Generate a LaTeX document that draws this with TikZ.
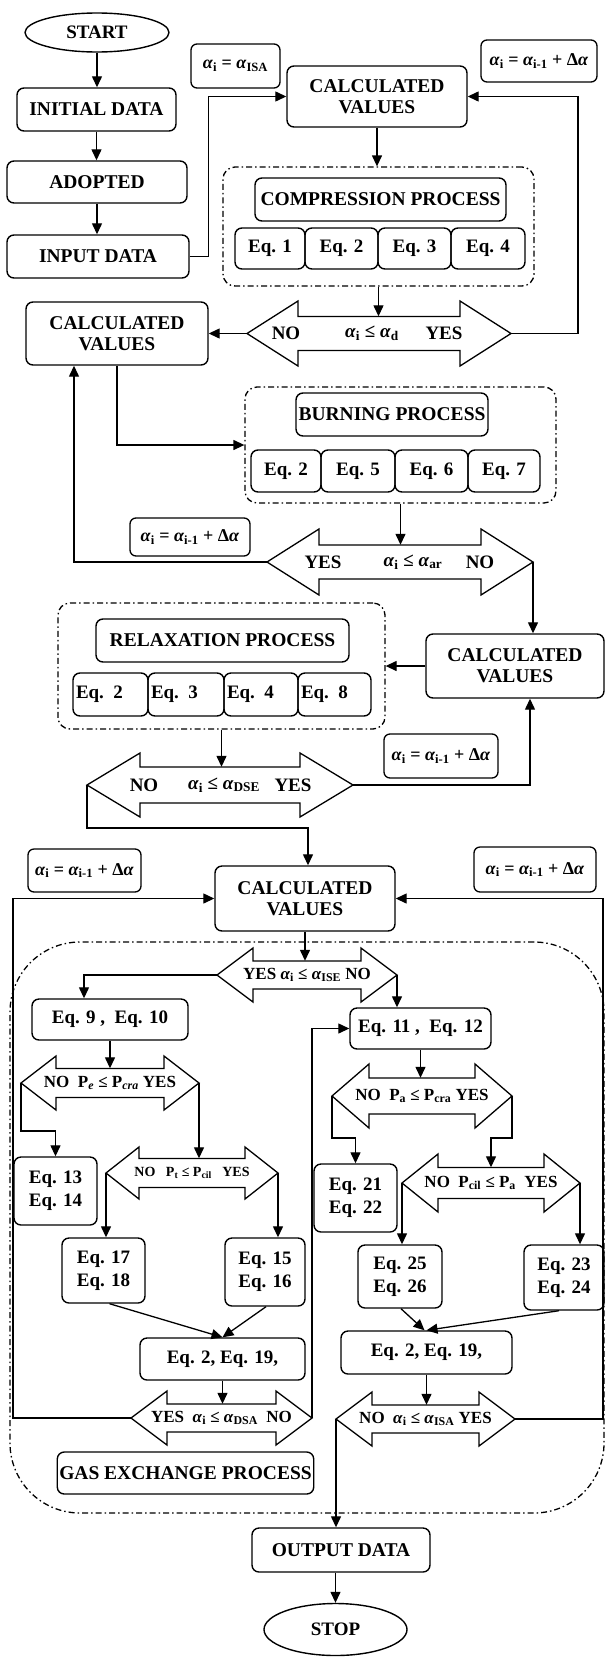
\documentclass[tikz,border=0pt]{standalone}
\usepackage{fontspec}
\setmainfont{Liberation Serif}
\usetikzlibrary{shapes.geometric,arrows.meta,calc}
\newcommand\myal{\textit{α}}
\newcommand\dblarr[8]{%
  \draw[dbl] ({#2-#4},#3) -- ({#2-#4+#5},{#3-#6}) -- ({#2-#4+#5},{#3-#7}) -- ({#2+#4-#5},{#3-#7}) -- ({#2+#4-#5},{#3-#6}) -- ({#2+#4},#3) -- ({#2+#4-#5},{#3+#6}) -- ({#2+#4-#5},{#3+#7}) -- ({#2-#4+#5},{#3+#7}) -- ({#2-#4+#5},{#3+#6}) -- cycle;
  \node[dlab, minimum height=2*#7pt] (#1) at (#2,#3) {#8};
  \coordinate (#1-l) at ({#2-#4},#3);
  \coordinate (#1-r) at ({#2+#4},#3);
}
\tikzset{
  box/.style={draw, line width=1.4pt, rounded corners=7pt, inner sep=2pt, align=center, font=\fontsize{19.5}{21}\selectfont\bfseries},
  eqbox/.style={draw, line width=1.4pt, rounded corners=7pt, inner sep=2pt, align=center, font=\fontsize{19}{23}\selectfont\bfseries},
  abox/.style={draw, line width=1.3pt, rounded corners=6pt, inner sep=2pt, font=\fontsize{18}{20}\selectfont\bfseries},
  oval/.style={draw, ellipse, line width=1.4pt, inner sep=0pt, font=\fontsize{19}{20}\selectfont\bfseries},
  dbox/.style={draw, line width=1.3pt, rounded corners=12pt, dash pattern=on 6pt off 3pt on 1.5pt off 3pt},
  arr/.style={line width=1.3pt, -{Triangle[length=11pt,width=10pt]}},
  dbl/.style={draw, line width=1.3pt, line join=miter},
  dlab/.style={font=\fontsize{17}{19}\selectfont\bfseries, inner sep=0pt},
  blab/.style={font=\fontsize{19}{21}\selectfont\bfseries, inner sep=0pt},
}
\begin{document}
\begin{tikzpicture}[x=1pt,y=-1pt]
\useasboundingbox (0,0) rectangle (605,1657);
% ---------- top column ----------
\node[oval, minimum width=144pt, minimum height=39pt] (start) at (97,32.5) {START};
\node[box, minimum width=159pt, minimum height=43pt] (init) at (96.5,109.5) {INITIAL DATA};
\node[box, minimum width=180pt, minimum height=42pt] (adopt) at (97,182) {ADOPTED};
\node[box, minimum width=182pt, minimum height=43pt] (input) at (98,256.5) {INPUT DATA};
\draw[arr] (start.south) -- (start.south |- init.north);
\draw[arr] (init.south) -- (init.south |- adopt.north);
\draw[arr] (adopt.south) -- (adopt.south |- input.north);
% ---------- compression ----------
\node[abox, minimum width=89pt, minimum height=44pt] (aisa) at (235.5,66) {\myal\textsubscript{i} = \myal\textsubscript{ISA}};
\node[box, minimum width=180pt, minimum height=61pt] (calc1) at (377,96.5) {CALCULATED\\VALUES};
\node[abox, minimum width=116pt, minimum height=42pt] (ainc1) at (539,61) {\myal\textsubscript{i} = \myal\textsubscript{i-1} + Δ\myal};
\node[dbox, minimum width=311pt, minimum height=119pt] (compbox) at (378.5,226.5) {};
\node[box, minimum width=251pt, minimum height=43pt] (compP) at (380.5,199.5) {COMPRESSION PROCESS};
\node[eqbox, minimum width=70pt, minimum height=41pt] (c1) at (270,248.5) {Eq. 1};
\node[eqbox, minimum width=73pt, minimum height=41pt] (c2) at (341.5,248.5) {Eq. 2};
\node[eqbox, minimum width=73pt, minimum height=41pt] (c3) at (414.5,248.5) {Eq. 3};
\node[eqbox, minimum width=74pt, minimum height=41pt] (c4) at (488,248.5) {Eq. 4};
\draw[arr] (input.east) -- ++(19,0) |- (calc1.west);
\draw[arr] (calc1.south) -- (calc1.south |- compbox.north);
\dblarr{d1}{379}{333.5}{132}{51}{32.5}{17}{}
\node[blab] (d1no) at (286,333.5) {NO};
\node[blab] (d1a) at (372,333.5) {\myal\textsubscript{i} ≤ \myal\textsubscript{d}};
\node[blab] (d1yes) at (444,333.5) {YES};
\draw[arr] (compbox.south) -- (compbox.south |- d1.north);
\draw[arr] (d1-r) -- ++(67,0) |- (calc1.east);
\node[box, minimum width=182pt, minimum height=63pt] (calc2) at (117,333.5) {CALCULATED\\VALUES};
\draw[arr] (d1-l) -- (calc2.east);
% ---------- burning ----------
\node[dbox, minimum width=311pt, minimum height=116pt] (burnbox) at (400.5,445) {};
\node[box, minimum width=192pt, minimum height=43pt] (burnP) at (392,414.5) {BURNING PROCESS};
\node[eqbox, minimum width=70pt, minimum height=42pt] (b1) at (286,471) {Eq. 2};
\node[eqbox, minimum width=74pt, minimum height=42pt] (b2) at (358,471) {Eq. 5};
\node[eqbox, minimum width=73pt, minimum height=42pt] (b3) at (431.5,471) {Eq. 6};
\node[eqbox, minimum width=72pt, minimum height=42pt] (b4) at (504,471) {Eq. 7};
\draw[arr] (calc2.south) |- (burnbox.west);
\node[abox, minimum width=120pt, minimum height=38pt] (ainc2) at (190,537) {\myal\textsubscript{i} = \myal\textsubscript{i-1} + Δ\myal};
\dblarr{d2}{400}{562}{133}{52}{33}{17}{}
\node[blab] (d2yes) at (323,562) {YES};
\node[blab] (d2a) at (413,562) {\myal\textsubscript{i} ≤ \myal\textsubscript{ar}};
\node[blab] (d2no) at (480,562) {NO};
\draw[arr] (burnbox.south) -- (burnbox.south |- d2.north);
\draw[arr] (d2-l) -| ([xshift=-43pt]calc2.south);
% ---------- relaxation ----------
\node[box, minimum width=178pt, minimum height=64pt] (calc3) at (515,666) {CALCULATED\\VALUES};
\draw[arr] (d2-r) -- (d2-r |- calc3.north);
\node[dbox, minimum width=327pt, minimum height=126pt] (relaxbox) at (221.5,666) {};
\node[box, minimum width=253pt, minimum height=43pt] (relaxP) at (222.5,640.5) {RELAXATION PROCESS};
\node[eqbox, text width=69pt, inner sep=3pt, align=left, minimum height=43pt] (r1) at (110.5,694.5) {Eq. 2};
\node[eqbox, text width=70pt, inner sep=3pt, align=left, minimum height=43pt] (r2) at (186,694.5) {Eq. 3};
\node[eqbox, text width=68pt, inner sep=3pt, align=left, minimum height=43pt] (r3) at (261,694.5) {Eq. 4};
\node[eqbox, text width=67pt, inner sep=3pt, align=left, minimum height=43pt] (r4) at (334.5,694.5) {Eq. 8};
\draw[arr] (calc3.west) -- (relaxbox.east);
\dblarr{d3}{220}{785}{133}{53}{32}{18}{}
\node[blab] (d3no) at (144,785) {NO};
\node[blab] (d3a) at (224,785) {\myal\textsubscript{i} ≤ \myal\textsubscript{DSE}};
\node[blab] (d3yes) at (293,785) {YES};
\draw[arr] (relaxbox.south) -- (relaxbox.south |- d3.north);
\node[abox, minimum width=114pt, minimum height=44pt] (ainc3) at (441,756) {\myal\textsubscript{i} = \myal\textsubscript{i-1} + Δ\myal};
\draw[arr] (d3-r) -| ([xshift=15pt]calc3.south);
% ---------- gas exchange ----------
\node[box, minimum width=180pt, minimum height=65pt] (calc4) at (305,898.5) {CALCULATED\\VALUES};
\draw[arr] (d3-l) -- ++(0,43) -| ([xshift=3pt]calc4.north);
\node[abox, minimum width=113pt, minimum height=43pt] (ainc4) at (84.5,870.5) {\myal\textsubscript{i} = \myal\textsubscript{i-1} + Δ\myal};
\node[abox, minimum width=122pt, minimum height=45pt] (ainc5) at (535,869.5) {\myal\textsubscript{i} = \myal\textsubscript{i-1} + Δ\myal};
\node[draw, line width=1.3pt, rounded corners=70pt, dash pattern=on 6pt off 3pt on 1.5pt off 3pt, minimum width=594pt, minimum height=571pt] (gasbox) at (307,1227.5) {};
\dblarr{ise}{307}{975}{90}{36}{27}{14}{YES \myal\textsubscript{i} ≤ \myal\textsubscript{ISE} NO}
\draw[arr] (calc4.south) -- (calc4.south |- ise.north);
\node[eqbox, minimum width=156pt, minimum height=41pt] (e910) at (110,1019.5) {Eq. 9 ,\ \ Eq. 10};
\node[eqbox, minimum width=141pt, minimum height=41pt] (e1112) at (420.5,1028.5) {Eq. 11 ,\ \ Eq. 12};
\draw[arr] (ise-l) -| ([xshift=-26pt]e910.north);
\draw[arr] (ise-r) -- (ise-r |- e1112.north);
\dblarr{pe}{110}{1083}{89}{35}{27}{14.5}{NO\ \ P\textsubscript{\textit{e}} ≤ P\textsubscript{\textit{cra}} YES}
\dblarr{pa}{422}{1096}{90}{37}{32}{18}{NO\ \ P\textsubscript{a} ≤ P\textsubscript{cra} YES}
\draw[arr] (e910.south) -- (e910.south |- pe.north);
\draw[arr] (e1112.south) -- (e1112.south |- pa.north);
\node[eqbox, minimum width=83pt, minimum height=68pt] (e1314) at (55.5,1191) {Eq. 13\\Eq. 14};
\dblarr{pt}{192}{1173}{86}{33}{26}{14.5}{\fontsize{14}{16}\selectfont NO\ \ \ P\textsubscript{t} ≤ P\textsubscript{cil}\ \ \ YES}
\draw[arr] (pe-l) -- ++(0,48) -| (e1314.north);
\draw[arr] (pe-r) -- (pe-r |- pt.north);
\node[eqbox, minimum width=83pt, minimum height=68pt] (e2122) at (355.5,1198) {Eq. 21\\Eq. 22};
\dblarr{pc}{491}{1183}{89}{36}{29}{15.5}{NO\ \ P\textsubscript{cil} ≤ P\textsubscript{a}\ \ YES}
\draw[arr] (pa-l) -- ++(0,42) -| (e2122.north);
\draw[arr] (pa-r) -- ++(0,42) -| (pc.north);
\node[eqbox, minimum width=83pt, minimum height=65pt] (e1718) at (103.5,1270.5) {Eq. 17\\Eq. 18};
\node[eqbox, minimum width=80pt, minimum height=68pt] (e1516) at (265,1272) {Eq. 15\\Eq. 16};
\node[eqbox, minimum width=84pt, minimum height=63pt] (e2526) at (400,1276.5) {Eq. 25\\Eq. 26};
\node[eqbox, minimum width=80pt, minimum height=65pt] (e2324) at (564,1277.5) {Eq. 23\\Eq. 24};
\draw[arr] (pt-l) -- (pt-l |- e1718.north);
\draw[arr] (pt-r) -- (pt-r |- e1516.north);
\draw[arr] (pc-l) -- (pc-l |- e2526.north);
\draw[arr] (pc-r) -- (pc-r |- e2324.north);
\node[eqbox, minimum width=165pt, minimum height=42pt] (e219l) at (222.5,1359) {Eq. 2, Eq. 19,};
\node[eqbox, minimum width=171pt, minimum height=43pt] (e219r) at (426.5,1352.5) {Eq. 2, Eq. 19,};
\draw[arr] ([xshift=6pt]e1718.south) -- (e219l.north);
\draw[arr] ([xshift=1pt]e1516.south) -- (e219l.north);
\draw[arr] ([xshift=1pt]e2526.south) -- ([xshift=-2pt]e219r.north);
\draw[arr] ([xshift=-5pt]e2324.south) -- (e219r.north);
\dblarr{dsa}{221.5}{1418}{90.5}{36}{27}{14}{YES\ \ \myal\textsubscript{i} ≤ \myal\textsubscript{DSA}\ \ NO}
\dblarr{isa}{425.5}{1419}{89.5}{36}{27}{14}{NO\ \ \myal\textsubscript{i} ≤ \myal\textsubscript{ISA} YES}
\draw[arr] (e219l.south) -- (e219l.south |- dsa.north);
\draw[arr] (e219r.south) -- (e219r.south |- isa.north);
\draw[arr] (dsa-l) -- ++(-118,0) |- (calc4.west);
\draw[arr] (dsa-r) |- (e1112.west);
\draw[arr] (isa-r) -- ++(88,0) |- (calc4.east);
\node[box, minimum width=255pt, minimum height=42pt] (gasP) at (185.5,1473) {GAS EXCHANGE PROCESS};
% ---------- output ----------
\node[box, minimum width=178pt, minimum height=44pt] (output) at (341,1550) {OUTPUT DATA};
\node[oval, minimum width=143pt, minimum height=52pt] (stop) at (335.5,1629.5) {STOP};
\draw[arr] (isa-l) -- (isa-l |- output.north);
\draw[arr] (stop.north |- output.south) -- (stop.north);
\end{tikzpicture}
\end{document}
